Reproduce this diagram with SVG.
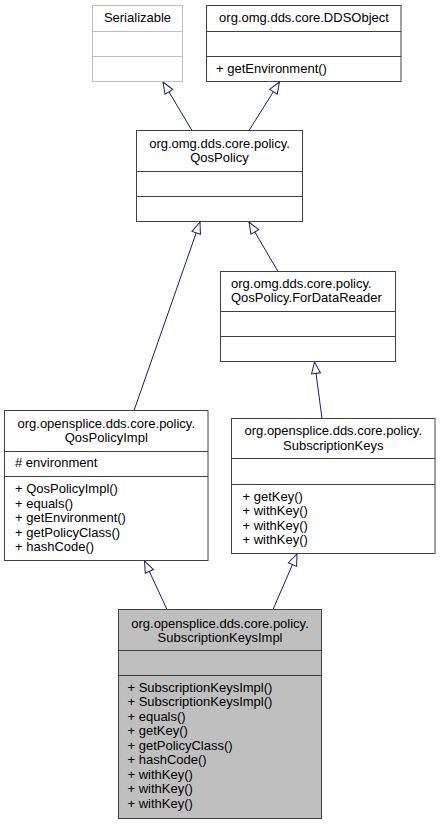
<svg xmlns="http://www.w3.org/2000/svg" width="440" height="824" viewBox="0 0 440 824">
<defs>
<marker id="inh" markerUnits="userSpaceOnUse" viewBox="0 0 14 12" markerWidth="14" markerHeight="12" refX="13" refY="6" orient="auto">
<path d="M1.5,1.5 L13,6 L1.5,10.5 Z" fill="#ffffff" stroke="#191970" stroke-width="1"/>
</marker>
</defs>
<style>
text{font-family:"Liberation Sans",Arial,sans-serif;font-size:13px;fill:#000}
.c{text-anchor:middle}
.box{fill:#ffffff;stroke:#404040;stroke-width:1}
.gray{fill:#ffffff;stroke:#bfbfbf;stroke-width:1}
.cur{fill:#bfbfbf;stroke:#404040;stroke-width:1}
.sep{stroke:#404040;stroke-width:1}
.sepg{stroke:#bfbfbf;stroke-width:1}
.edge{fill:none;stroke:#191970;stroke-width:1;marker-end:url(#inh)}
</style>
<rect width="440" height="824" fill="#ffffff"/>
<g id="connectors">
<path class="edge" d="M192,130.5 L163,82"/>
<path class="edge" d="M249,130.5 L279.5,82"/>
<path class="edge" d="M134,410.5 L200,222"/>
<path class="edge" d="M278,271.5 L249,222"/>
<path class="edge" d="M322,418.5 L314.5,362"/>
<path class="edge" d="M167,609.5 L144.5,561"/>
<path class="edge" d="M273,609.5 L297,554"/>
</g>
<g id="Serializable">
<rect class="gray" x="92.5" y="5.5" width="90" height="76"/>
<line class="sepg" x1="92.5" y1="31.5" x2="182.5" y2="31.5"/>
<line class="sepg" x1="92.5" y1="56.5" x2="182.5" y2="56.5"/>
<text class="c" x="137.5" y="22">Serializable</text>
</g>
<g id="DDSObject">
<rect class="box" x="206.5" y="5.5" width="194.5" height="76"/>
<line class="sep" x1="206.5" y1="31.5" x2="401" y2="31.5"/>
<line class="sep" x1="206.5" y1="56.5" x2="401" y2="56.5"/>
<text class="c" x="304" y="22">org.omg.dds.core.DDSObject</text>
<text x="216" y="73">+ getEnvironment()</text>
</g>
<g id="QosPolicy">
<rect class="box" x="136.5" y="130.5" width="166" height="91"/>
<line class="sep" x1="136.5" y1="171.5" x2="302.5" y2="171.5"/>
<line class="sep" x1="136.5" y1="196.5" x2="302.5" y2="196.5"/>
<text class="c" x="219.5" y="148">org.omg.dds.core.policy.</text>
<text class="c" x="219.5" y="162">QosPolicy</text>
</g>
<g id="ForDataReader">
<rect class="box" x="220.5" y="271.5" width="175" height="90"/>
<line class="sep" x1="220.5" y1="311.5" x2="395.5" y2="311.5"/>
<line class="sep" x1="220.5" y1="336.5" x2="395.5" y2="336.5"/>
<text x="231" y="287.5">org.omg.dds.core.policy.</text>
<text x="231" y="302">QosPolicy.ForDataReader</text>
</g>
<g id="QosPolicyImpl">
<rect class="box" x="4.5" y="410.5" width="203.5" height="150"/>
<line class="sep" x1="4.5" y1="451.5" x2="208" y2="451.5"/>
<line class="sep" x1="4.5" y1="476.5" x2="208" y2="476.5"/>
<text class="c" x="106.25" y="427.5">org.opensplice.dds.core.policy.</text>
<text class="c" x="106.25" y="442">QosPolicyImpl</text>
<text x="15" y="467"># environment</text>
<text x="15" y="493">+ QosPolicyImpl()</text>
<text x="15" y="507.5">+ equals()</text>
<text x="15" y="522">+ getEnvironment()</text>
<text x="15" y="536.5">+ getPolicyClass()</text>
<text x="15" y="551">+ hashCode()</text>
</g>
<g id="SubscriptionKeys">
<rect class="box" x="231.5" y="418.5" width="203.5" height="135"/>
<line class="sep" x1="231.5" y1="458.5" x2="435" y2="458.5"/>
<line class="sep" x1="231.5" y1="484.5" x2="435" y2="484.5"/>
<text class="c" x="333.25" y="435">org.opensplice.dds.core.policy.</text>
<text class="c" x="333.25" y="449.5">SubscriptionKeys</text>
<text x="242.5" y="500.5">+ getKey()</text>
<text x="242.5" y="515">+ withKey()</text>
<text x="242.5" y="529.5">+ withKey()</text>
<text x="242.5" y="544">+ withKey()</text>
</g>
<g id="SubscriptionKeysImpl">
<rect class="cur" x="118.5" y="609.5" width="203" height="209"/>
<line class="sep" x1="118.5" y1="650.5" x2="321.5" y2="650.5"/>
<line class="sep" x1="118.5" y1="675.5" x2="321.5" y2="675.5"/>
<text class="c" x="220" y="627.5">org.opensplice.dds.core.policy.</text>
<text class="c" x="220" y="642">SubscriptionKeysImpl</text>
<text x="127.5" y="691.5">+ SubscriptionKeysImpl()</text>
<text x="127.5" y="706">+ SubscriptionKeysImpl()</text>
<text x="127.5" y="720.5">+ equals()</text>
<text x="127.5" y="735">+ getKey()</text>
<text x="127.5" y="749.5">+ getPolicyClass()</text>
<text x="127.5" y="764">+ hashCode()</text>
<text x="127.5" y="778.5">+ withKey()</text>
<text x="127.5" y="793">+ withKey()</text>
<text x="127.5" y="807.5">+ withKey()</text>
</g>
</svg>
